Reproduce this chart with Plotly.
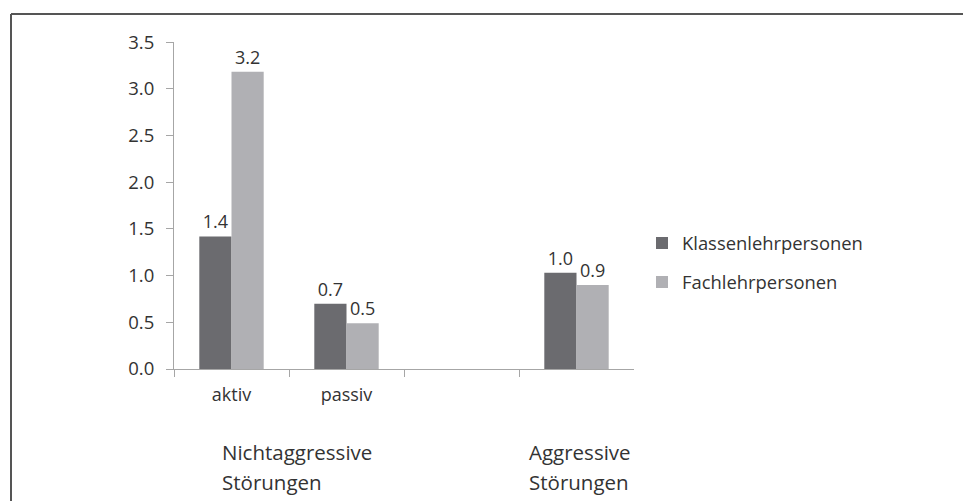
import plotly.graph_objects as go

categories = ["aktiv", "passiv", "leer", "aggressiv"]
tick_labels = ["aktiv", "passiv", "", ""]
klassen = [1.42, 0.70, None, 1.03]
fach = [3.185, 0.49, None, 0.90]
klassen_labels = ["1.4", "0.7", "", "1.0"]
fach_labels = ["3.2", "0.5", "", "0.9"]

W, H = 971, 501
OX, OY = 8, 8  # page body margin offset compensation
FONT = "Open Sans"
TXT = "#333333"


def px(x):
    return (x - OX) / W


def py(y):
    return 1 - (y - OY) / H


fig = go.Figure()
fig.add_trace(go.Bar(x=categories, y=klassen, name="Klassenlehrpersonen",
                     marker=dict(color="#6b6b6f", line=dict(width=0)),
                     text=klassen_labels, textposition="outside",
                     textfont=dict(size=18, color=TXT, family=FONT),
                     cliponaxis=False, legendgroup="a"))
fig.add_trace(go.Bar(x=categories, y=fach, name="Fachlehrpersonen",
                     marker=dict(color="#b0b0b4", line=dict(width=0)),
                     text=fach_labels, textposition="outside",
                     textfont=dict(size=18, color=TXT, family=FONT),
                     cliponaxis=False, legendgroup="b"))

fig.update_layout(
    template="none",
    width=W, height=H,
    margin=dict(l=0, r=0, t=0, b=0, autoexpand=False),
    paper_bgcolor="white", plot_bgcolor="white",
    font=dict(family=FONT, size=16, color=TXT),
    barmode="group", bargap=0.44, bargroupgap=0,
    showlegend=True,
    legend=dict(x=px(642), y=py(262.5), xanchor="left", yanchor="middle",
                font=dict(size=18.4, color=TXT, family=FONT),
                tracegroupgap=12, bgcolor="rgba(0,0,0,0)"),
    xaxis=dict(domain=[px(174), px(634)], type="category",
               categoryorder="array", categoryarray=categories,
               tickvals=categories, ticktext=tick_labels,
               tickson="boundaries", ticks="outside", ticklen=7,
               tickcolor="#a6a6a6", showline=True, linecolor="#a6a6a6",
               linewidth=1, showgrid=False, zeroline=False, automargin=False,
               ticklabelstandoff=9,
               tickfont=dict(size=18, color=TXT)),
    yaxis=dict(domain=[py(369), py(42.3)], range=[0, 3.5], dtick=0.5,
               tickformat=".1f", ticks="outside", ticklen=7,
               tickcolor="#a6a6a6", showline=True, linecolor="#a6a6a6",
               linewidth=1, showgrid=False, zeroline=False, automargin=False,
               ticklabelstandoff=8,
               tickfont=dict(size=18.5, color=TXT)),
    annotations=[
        dict(text=t, xref="paper", yref="paper", x=px(x), y=py(y),
             xanchor="left", yanchor="middle", align="left", showarrow=False,
             font=dict(size=20.5, color=TXT, family=FONT))
        for t, x, y in [("Nichtaggressive", 220, 451.7),
                        ("Störungen", 220, 481.7),
                        ("Aggressive", 526.7, 451.7),
                        ("Störungen", 526.7, 481.7)]
    ],
    shapes=[
        dict(type="line", xref="paper", yref="paper", x0=px(11), x1=1,
             y0=py(14), y1=py(14), line=dict(color="#555555", width=2)),
        dict(type="line", xref="paper", yref="paper", x0=px(11), x1=px(11),
             y0=py(14), y1=0, line=dict(color="#555555", width=2)),
    ],
)

fig.write_html("out.html")
